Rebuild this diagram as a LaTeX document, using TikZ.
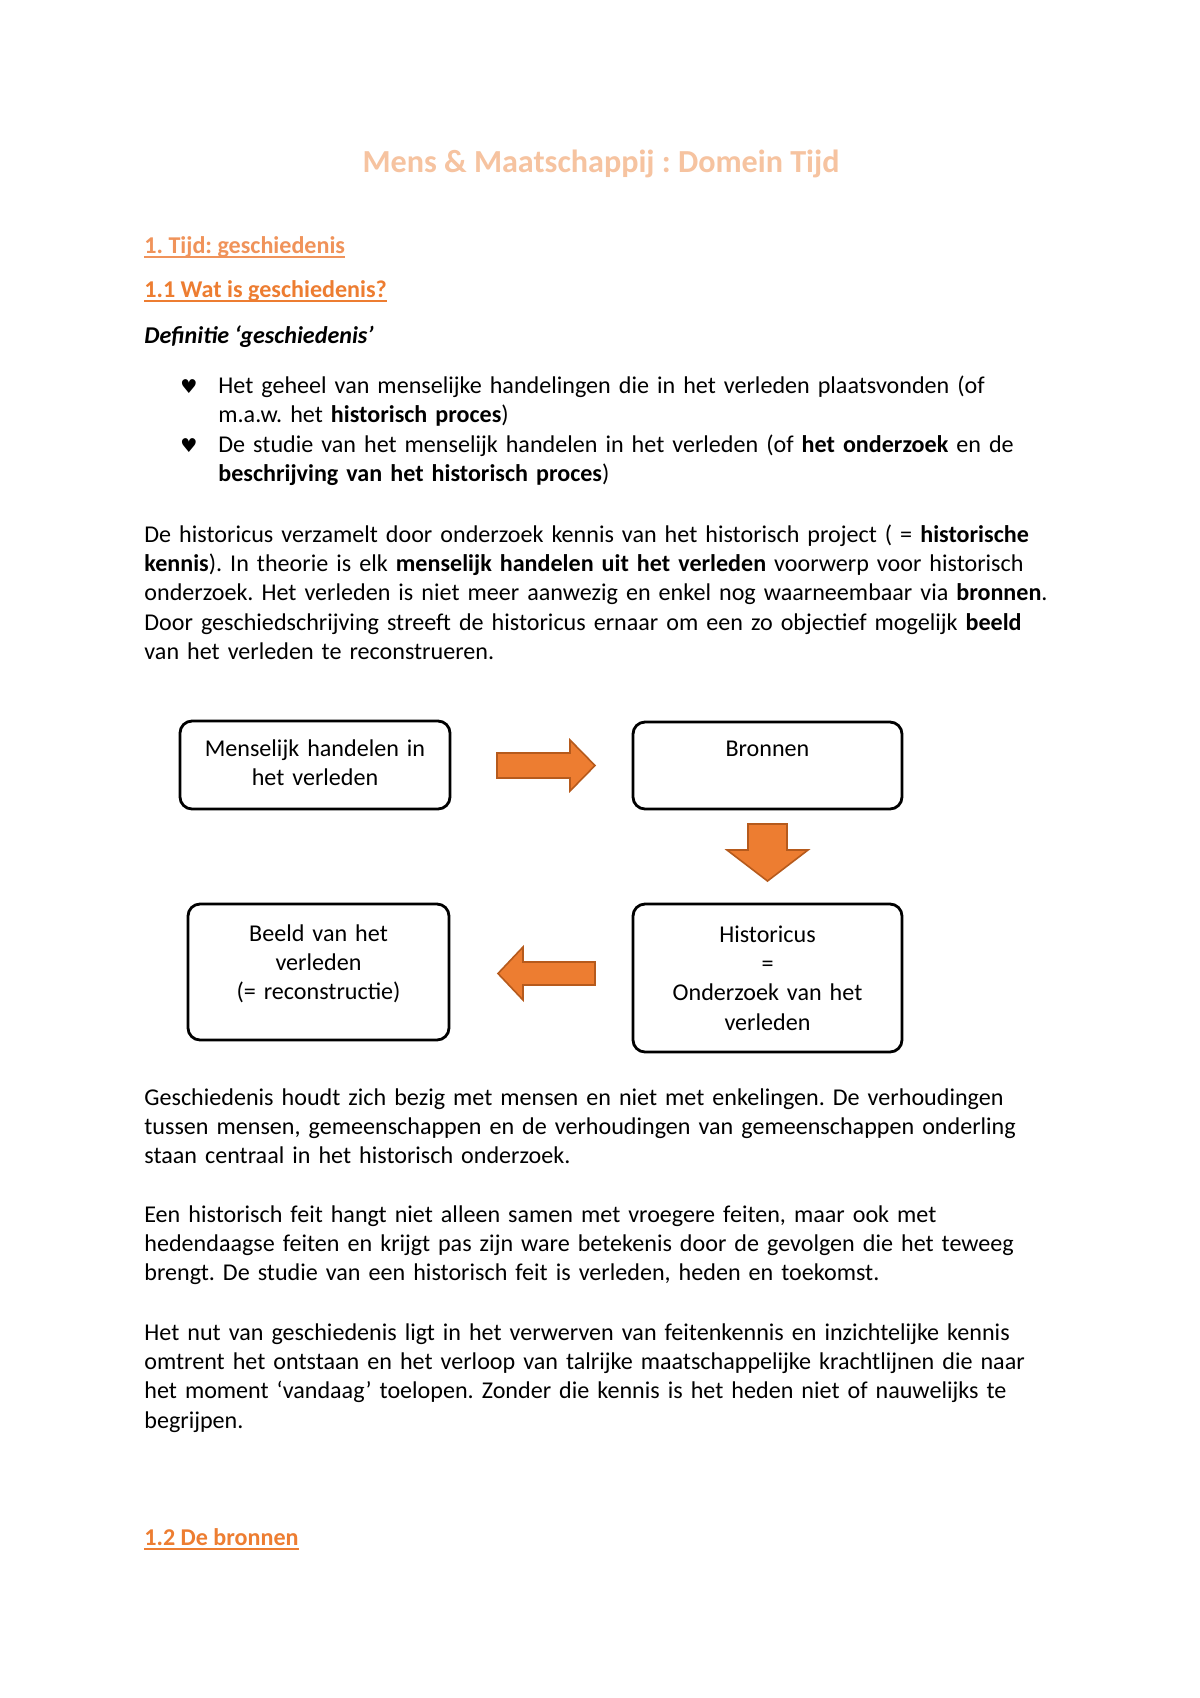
\documentclass[tikz,border=0pt]{standalone}
\usepackage{fontspec}
\setmainfont{Carlito}
\newfontfamily\symfont{DejaVu Sans}
\usetikzlibrary{positioning}
\definecolor{accent}{HTML}{ED7D31}
\definecolor{accentdark}{HTML}{B65A1C}
\definecolor{titlepeach}{HTML}{F6C3A0}
\definecolor{headlight}{HTML}{F0935A}
\def\pu{0.0175cm}
\frenchspacing

\begin{document}
\begin{tikzpicture}[x=\pu,y=-\pu,
  body/.style={font=\fontsize{12}{14.65}\selectfont,anchor=base west,inner sep=0,text width=500pt,align=left},
  head/.style={font=\fontsize{12}{14.65}\selectfont\bfseries,anchor=base west,inner sep=0},
  hart/.style={font=\symfont\fontsize{9.5}{11}\selectfont,anchor=base west,inner sep=0},
  box/.style={draw,line width=1.4pt,rounded corners=6pt,inner sep=0},
  boxtxt/.style={font=\fontsize{12}{14.65}\selectfont,anchor=base,inner sep=0,text width=125pt,align=center},
  blockarrow/.style={fill=accent,draw=accentdark,line width=0.8pt,line join=miter}]
\fill[white] (0,0) rectangle (1200,1698);
\useasboundingbox (0,0) rectangle (1200,1698);

\node[font=\fontsize{16}{19}\selectfont\bfseries,text=titlepeach,anchor=base,inner sep=0] (titel) at (601,172) {Mens \& Maatschappij : Domein Tijd};

\node[head,text=headlight] (kop1) at (144,253) {1. Tijd: geschiedenis};
\draw[headlight,line width=0.8pt] ([yshift=-2pt]kop1.base west) -- ([yshift=-2pt]kop1.base east);
\node[head,text=accent] (kop11) at (144,297) {1.1 Wat is geschiedenis?};
\draw[accent,line width=0.8pt] ([yshift=-2pt]kop11.base west) -- ([yshift=-2pt]kop11.base east);
\node[head,font=\fontsize{12}{14.65}\selectfont\bfseries\itshape] (definitie) at (144,343) {Definitie ‘geschiedenis’};

\node[hart] (hart1) at (180,393) {♥};
\node[body] (punt1) at (218,393) {Het geheel van menselijke handelingen die in het verleden plaatsvonden (of\\
m.a.w. het \textbf{historisch proces})};
\node[hart] (hart2) at (180,452) {♥};
\node[body] (punt2) at (218,452) {De studie van het menselijk handelen in het verleden (of \textbf{het onderzoek} en de\\
\textbf{beschrijving van het historisch proces})};

\node[body] (alinea1) at (144,542) {De historicus verzamelt door onderzoek kennis van het historisch project ( = \textbf{historische}\\
\textbf{kennis}). In theorie is elk \textbf{menselijk handelen uit het verleden} voorwerp voor historisch\\
onderzoek. Het verleden is niet meer aanwezig en enkel nog waarneembaar via \textbf{bronnen}.\\
Door geschiedschrijving streeft de historicus ernaar om een zo objectief mogelijk \textbf{beeld}\\
van het verleden te reconstrueren.};

\node[box,minimum width=270*\pu,minimum height=88*\pu] (handelen) at (315,765) {};
\node[box,minimum width=269*\pu,minimum height=87*\pu] (bronnen) at (767.5,765.5) {};
\node[box,minimum width=261*\pu,minimum height=136*\pu] (beeld) at (318.5,972) {};
\node[box,minimum width=269*\pu,minimum height=148*\pu] (historicus) at (767.5,978) {};

\node[boxtxt] (handelentxt) at (315,756) {Menselijk handelen in\\het verleden};
\node[boxtxt] (bronnentxt) at (767.5,756) {Bronnen};
\node[boxtxt] (beeldtxt) at (318.5,941) {Beeld van het\\verleden\\(= reconstructie)};
\node[boxtxt] (historicustxt) at (767.5,942) {Historicus\\=\\Onderzoek van het\\verleden};

\draw[blockarrow] (497,753) -- (570,753) -- (570,740) -- (595,765.5) -- (570,791) -- (570,778) -- (497,778) -- cycle;
\draw[blockarrow] (748,824) -- (787,824) -- (787,850) -- (808,850) -- (767.5,881) -- (727,850) -- (748,850) -- cycle;
\draw[blockarrow] (595,962) -- (523,962) -- (523,947) -- (498,973.5) -- (523,1000) -- (523,985) -- (595,985) -- cycle;

\node[body] (alinea2) at (144,1105) {Geschiedenis houdt zich bezig met mensen en niet met enkelingen. De verhoudingen\\
tussen mensen, gemeenschappen en de verhoudingen van gemeenschappen onderling\\
staan centraal in het historisch onderzoek.};
\node[body] (alinea3) at (144,1222) {Een historisch feit hangt niet alleen samen met vroegere feiten, maar ook met\\
hedendaagse feiten en krijgt pas zijn ware betekenis door de gevolgen die het teweeg\\
brengt. De studie van een historisch feit is verleden, heden en toekomst.};
\node[body] (alinea4) at (144,1340) {Het nut van geschiedenis ligt in het verwerven van feitenkennis en inzichtelijke kennis\\
omtrent het ontstaan en het verloop van talrijke maatschappelijke krachtlijnen die naar\\
het moment ‘vandaag’ toelopen. Zonder die kennis is het heden niet of nauwelijks te\\
begrijpen.};

\node[head,text=accent] (kop12) at (144,1545) {1.2 De bronnen};
\draw[accent,line width=0.8pt] ([yshift=-2pt]kop12.base west) -- ([yshift=-2pt]kop12.base east);
\end{tikzpicture}
\end{document}
